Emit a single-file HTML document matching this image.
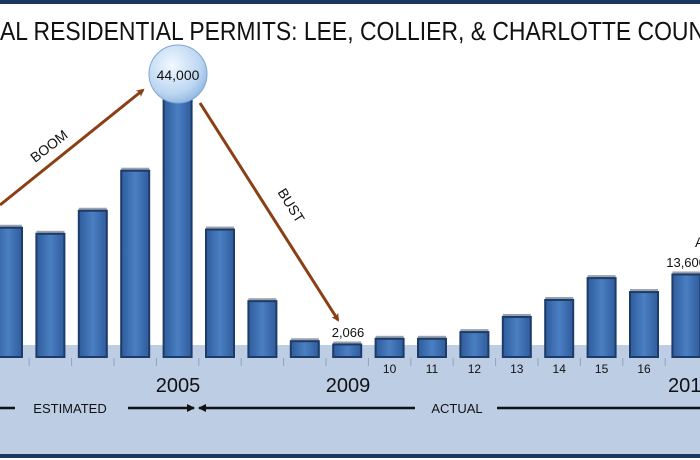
<!DOCTYPE html>
<html><head><meta charset="utf-8"><style>
html,body{margin:0;padding:0;background:#fff;}
svg{display:block;font-family:"Liberation Sans",sans-serif;}
</style></head><body>
<svg id="chart" width="700" height="460" viewBox="0 0 700 460">
<defs>
<linearGradient id="barg" x1="0" x2="1" y1="0" y2="0">
<stop offset="0" stop-color="#2f5c9c"/><stop offset="0.5" stop-color="#4a7fc2"/><stop offset="1" stop-color="#2f5c9c"/>
</linearGradient>
<radialGradient id="bub" cx="0.4" cy="0.35" r="0.7">
<stop offset="0" stop-color="#f2f8ff"/><stop offset="0.7" stop-color="#bcd6f2"/><stop offset="1" stop-color="#8fb5e0"/>
</radialGradient>
<marker id="ah" markerWidth="8" markerHeight="8" refX="6" refY="4" orient="auto" markerUnits="userSpaceOnUse"><path d="M0,0 L8,4 L0,8 L2,4 Z" fill="#8a3f14"/></marker>
<marker id="bk" markerWidth="8" markerHeight="8" refX="7" refY="4" orient="auto" markerUnits="userSpaceOnUse"><path d="M0,0 L8,4 L0,8 Z" fill="#111"/></marker>
</defs>
<rect x="0" y="0" width="700" height="4" fill="#1c3561"/>
<rect x="0" y="345" width="700" height="109" fill="#bccde4"/>
<rect x="0" y="454" width="700" height="4" fill="#1c3561"/>
<text x="0" y="40" font-size="26" textLength="705" lengthAdjust="spacingAndGlyphs" fill="#111">AL RESIDENTIAL PERMITS: LEE, COLLIER, &amp; CHARLOTTE COUN</text>
<g id="bars"></g>
<g id="ticks"></g>
<line x1="0" y1="205" x2="143" y2="90" stroke="#8a3f14" stroke-width="3" marker-end="url(#ah)"/>
<line x1="200" y1="103" x2="338" y2="320" stroke="#8a3f14" stroke-width="3" marker-end="url(#ah)"/>
<text x="52" y="150" font-size="14" transform="rotate(-38 52 150)" text-anchor="middle" fill="#111">BOOM</text>
<text x="287" y="208" font-size="14" transform="rotate(58 287 208)" text-anchor="middle" fill="#111">BUST</text>
<circle cx="178" cy="74" r="29" fill="url(#bub)" stroke="#7fa6d4" stroke-width="1"/>
<text x="178" y="80" font-size="14" text-anchor="middle" fill="#111">44,000</text>
<text x="348" y="337" font-size="13" text-anchor="middle" fill="#111">2,066</text>
<text x="706" y="267" font-size="13" text-anchor="end" fill="#111">13,600</text>
<text x="695" y="247" font-size="14" fill="#111">A</text>
<text x="178" y="392" font-size="20" text-anchor="middle" fill="#111">2005</text>
<text x="348" y="392" font-size="20" text-anchor="middle" fill="#111">2009</text>
<text x="668" y="392" font-size="20" fill="#111">201</text>
<line x1="0" y1="408" x2="15" y2="408" stroke="#111" stroke-width="2.5"/>
<text x="70" y="413" font-size="13" text-anchor="middle" fill="#111">ESTIMATED</text>
<line x1="128" y1="408" x2="194" y2="408" stroke="#111" stroke-width="2.5" marker-end="url(#bk)"/>
<line x1="415" y1="408" x2="199" y2="408" stroke="#111" stroke-width="2.5" marker-end="url(#bk)"/>
<text x="457" y="413" font-size="13" text-anchor="middle" fill="#111">ACTUAL</text>
<line x1="497" y1="408" x2="700" y2="408" stroke="#111" stroke-width="2.5"/>
</svg>
<script>
const years=[2001,2002,2003,2004,2005,2006,2007,2008,2009,2010,2011,2012,2013,2014,2015,2016,2017];
const permits=[21300,20300,24100,30700,44000,21000,9200,2600,2066,3000,3000,4100,6600,9400,13000,10700,13600];
const smallTicks=["","","","","","","","","","10","11","12","13","14","15","16",""];
const NS="http://www.w3.org/2000/svg";
const x0=8,step=42.4,base=357,pxPer=267/44000,bw=28;
function xs(i){return x0+i*step;}
function ys(v){return base-v*pxPer;}
const bars=document.getElementById('bars'),ticks=document.getElementById('ticks');
permits.forEach((v,i)=>{
  const cx=xs(i),top=ys(v);
  const sh=document.createElementNS(NS,'rect');
  sh.setAttribute('x',cx-bw/2);sh.setAttribute('y',top-3);sh.setAttribute('width',bw);sh.setAttribute('height',4);sh.setAttribute('fill','#9aa3ad');
  
  
  bars.appendChild(sh);
  const r=document.createElementNS(NS,'rect');
  r.setAttribute('x',cx-bw/2);r.setAttribute('y',top);r.setAttribute('width',bw);r.setAttribute('height',base-top);
  r.setAttribute('fill','url(#barg)');r.setAttribute('stroke','#1d3b69');r.setAttribute('stroke-width','2');
  
  
  bars.appendChild(r);
  const t=document.createElementNS(NS,'line');
  t.setAttribute('x1',cx+step/2);t.setAttribute('x2',cx+step/2);t.setAttribute('y1',358);t.setAttribute('y2',366);
  t.setAttribute('stroke','#8fa3bf');
  
  
  ticks.appendChild(t);
  if(smallTicks[i]){
    const l=document.createElementNS(NS,'text');
    l.setAttribute('x',cx);l.setAttribute('y',373);l.setAttribute('font-size','12');l.setAttribute('text-anchor','middle');l.setAttribute('fill','#111');
    l.textContent=smallTicks[i];
    
    
    ticks.appendChild(l);
  }
});
</script>
</body></html>
